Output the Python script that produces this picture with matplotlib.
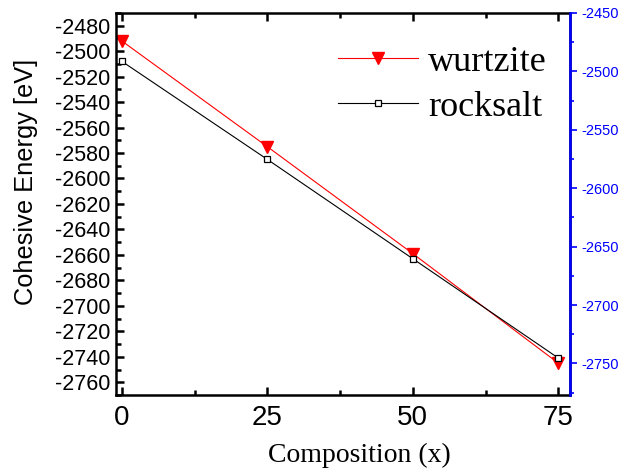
import matplotlib
matplotlib.use('Agg')
from matplotlib import pyplot as plt
from matplotlib.ticker import MultipleLocator

composition = [0, 25, 50, 75]
wurtzite = [-2492, -2575, -2659, -2745]
rocksalt = [-2508, -2585, -2663, -2741]

plt.rcParams['axes.unicode_minus'] = False
sans = 'Liberation Sans'
serif = 'Liberation Serif'

fig = plt.figure(figsize=(6.27, 4.74), dpi=100)
ax = fig.add_axes([0.185, 0.1667, 0.724, 0.806])

ax.plot(composition, wurtzite, color='red', lw=0.8, marker='v', ms=9,
        mfc='red', mec='red', label='wurtzite')
ax.plot(composition, rocksalt, color='black', lw=0.8, marker='s', ms=5,
        mfc='white', mec='black', mew=0.9, label='rocksalt')

ax.set_xlim(-1, 77)
ax.set_ylim(-2770, -2470)
ax.xaxis.set_major_locator(MultipleLocator(25))
ax.xaxis.set_minor_locator(MultipleLocator(12.5))
ax.yaxis.set_major_locator(MultipleLocator(20))
ax.yaxis.set_minor_locator(MultipleLocator(10))
ax.tick_params(which='both', direction='in', top=True, right=True, width=1.8)
ax.tick_params(which='major', length=6)
ax.tick_params(which='minor', length=3.5)
ax.tick_params(axis='y', labelsize=15.5, pad=4)
ax.tick_params(axis='x', labelsize=20, pad=7)
for lab in ax.get_xticklabels() + ax.get_yticklabels():
    lab.set_family(sans)
for sp in ax.spines.values():
    sp.set_linewidth(1.8)

ax.set_xlabel('Composition (x)', fontsize=20, family=serif)
ax.xaxis.set_label_coords(0.537, -0.126)
ax.set_ylabel('Cohesive Energy [eV]', fontsize=18.3, family=sans)
ax.yaxis.set_label_coords(-0.172, 0.557)

# second energy scale on the right
ax2 = ax.twinx()
ax2.set_ylim(-2777, -2450)
ax2.yaxis.set_major_locator(MultipleLocator(50))
ax2.yaxis.set_minor_locator(MultipleLocator(25))
ax2.tick_params(which='both', direction='out', colors='blue', width=1.2,
                labelsize=10.5, pad=3)
ax2.tick_params(which='major', length=5)
ax2.tick_params(which='minor', length=3)
for lab in ax2.get_yticklabels():
    lab.set_family(sans)
ax2.spines['right'].set_color('blue')
ax2.spines['right'].set_linewidth(1.8)
for side in ['left', 'top', 'bottom']:
    ax2.spines[side].set_visible(False)

leg = ax.legend(loc='upper right', bbox_to_anchor=(1.012, 0.99), frameon=False,
                prop={'family': serif, 'size': 26}, handlelength=2.2,
                handletextpad=0.28, labelspacing=0.32, borderaxespad=0.4)

fig.savefig('out.png', dpi=100)
